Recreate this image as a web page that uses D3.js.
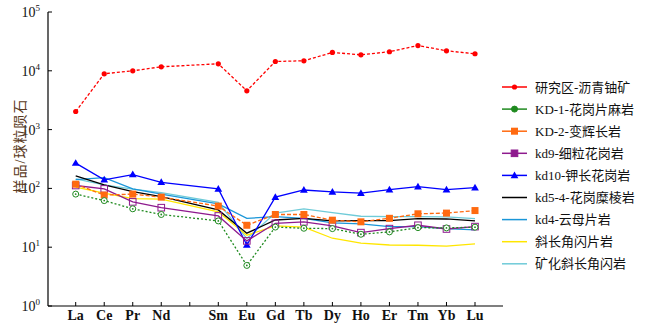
<!DOCTYPE html>
<html>
<head>
<meta charset="utf-8">
<script src="https://cdn.jsdelivr.net/npm/d3@7"></script>
<style>
body { margin: 0; background: #fff; }
text { font-family: "Liberation Serif", "Noto Sans CJK SC", serif; }
</style>
</head>
<body>
<svg id="chart" width="649" height="323"></svg>
<script>
// REE elements, Pm slot left empty
var elements = ["La", "Ce", "Pr", "Nd", "", "Sm", "Eu", "Gd", "Tb", "Dy", "Ho", "Er", "Tm", "Yb", "Lu"];
var yTicks = [0, 1, 2, 3, 4, 5];

var ore      = [2030, 8890, 10000, 11700, null, 13150, 4570, 14400, 14800, 20500, 18700, 21100, 26900, 21900, 19500];
var kd1      = [80, 62, 45, 36, null, 28, 4.9, 22, 21, 20.7, 16.6, 18.2, 21.5, 21.3, 21.9];
var kd2      = [118, 77, 80, 71, null, 50, 23.6, 36, 36, 28.8, 27, 31, 37, 38, 42];
var kd9      = [112, 98, 59, 47, null, 34, 12.8, 25.5, 27, 23, 17.7, 20.7, 23.6, 20.4, 22.4];
var kd10     = [269, 140, 172, 127, null, 98, 10.9, 71, 94, 87, 83, 95, 107, 95, 103];
var kd54     = [163, 115, 88, 72.5, null, 43, 17.3, 29, 31, 28, 28.3, 28.3, 30.6, 30.2, 28];
var kd4      = [141, 153, 98, 80, null, 54.5, 31, 33, 31, 26, 24.9, 22.4, 22.4, 20.7, 19.7];
var amph     = [105, 83, 67, 65.5, null, 40, 16, 23, 21.9, 14.2, 11.7, 10.9, 10.8, 10.4, 11.4];
var minAmph  = [145, 115, 97, 85, null, 58, 14, 38, 45, 38.7, 33.6, 33, 33, 32.7, 30.6];

var series = [
    { name: "研究区-沥青铀矿", values: ore, color: "#ff0000", dash: "3,2", marker: "dot" },
    { name: "KD-1-花岗片麻岩", values: kd1, color: "#1f8a1f", dash: "2,2", marker: "ocircle" },
    { name: "KD-2-变辉长岩", values: kd2, color: "#ff6a10", dash: "4,2", marker: "square" },
    { name: "kd9-细粒花岗岩", values: kd9, color: "#8e1a8e", dash: null, marker: "osquare" },
    { name: "kd10-钾长花岗岩", values: kd10, color: "#0000ff", dash: null, marker: "triangle" },
    { name: "kd5-4-花岗糜棱岩", values: kd54, color: "#000000", dash: null, marker: null },
    { name: "kd4-云母片岩", values: kd4, color: "#1a96d8", dash: null, marker: null },
    { name: "斜长角闪片岩", values: amph, color: "#ffe600", dash: null, marker: null },
    { name: "矿化斜长角闪岩", values: minAmph, color: "#6fcbd8", dash: null, marker: null }
];

var svg = d3.select("#chart");
var x = d3.scaleLinear().domain([0, 14]).range([75.7, 475]);
var y = d3.scaleLog().domain([1, 1e5]).range([306, 12]);
var x0 = 48, xEnd = 503;

// axes
var gx = svg.append("g").attr("transform", "translate(0,306)");
gx.append("line").attr("x1", x0).attr("x2", xEnd).attr("stroke", "#000").attr("stroke-width", 1.2);
gx.selectAll("line.tk").data(elements).enter().append("line")
    .attr("class", "tk")
    .attr("x1", function (d, i) { return x(i); })
    .attr("x2", function (d, i) { return x(i); })
    .attr("y1", 0).attr("y2", -4)
    .attr("stroke", "#000");
gx.selectAll("text").data(elements).enter().append("text")
    .attr("x", function (d, i) { return x(i); })
    .attr("y", 14)
    .attr("text-anchor", "middle")
    .attr("font-size", 14)
    .attr("font-weight", "bold")
    .attr("fill", "#111")
    .text(function (d) { return d; });

var gy = svg.append("g");
gy.append("line").attr("x1", x0).attr("x2", x0).attr("y1", 12).attr("y2", 306)
    .attr("stroke", "#000").attr("stroke-width", 1.2);
gy.selectAll("line.tk").data(yTicks).enter().append("line")
    .attr("class", "tk")
    .attr("x1", x0).attr("x2", x0 + 4)
    .attr("y1", function (d) { return y(Math.pow(10, d)); })
    .attr("y2", function (d) { return y(Math.pow(10, d)); })
    .attr("stroke", "#000");
var tl = gy.selectAll("text").data(yTicks).enter().append("text")
    .attr("x", 40)
    .attr("y", function (d) { return y(Math.pow(10, d)) + 5; })
    .attr("text-anchor", "end")
    .attr("font-size", 14)
    .attr("fill", "#111");
tl.append("tspan").text("10");
tl.append("tspan").attr("font-size", 9).attr("dy", -6).text(function (d) { return d; });

svg.append("text")
    .attr("transform", "translate(25,146) rotate(-90)")
    .attr("text-anchor", "middle")
    .attr("font-size", 14)
    .attr("fill", "#5a3a22")
    .attr("letter-spacing", 1)
    .text("样品/球粒陨石");

// lines skip the empty Pm slot and join Nd straight to Sm
var line = d3.line()
    .x(function (d) { return x(d[0]); })
    .y(function (d) { return y(d[1]); });

function points(values) {
    var pts = [];
    values.forEach(function (v, i) { if (v != null) pts.push([i, v]); });
    return pts;
}

function drawMarker(g, type, color, cx, cy, legend) {
    if (type == "dot") {
        g.append("circle").attr("cx", cx).attr("cy", cy).attr("r", 2.6).attr("fill", color);
    } else if (type == "ocircle") {
        g.append("circle").attr("cx", cx).attr("cy", cy).attr("r", 3)
            .attr("fill", legend ? color : "#fff").attr("stroke", color).attr("stroke-width", 1);
        g.append("circle").attr("cx", cx).attr("cy", cy).attr("r", 0.9).attr("fill", color);
    } else if (type == "square") {
        g.append("rect").attr("x", cx - 3.5).attr("y", cy - 3.5).attr("width", 7).attr("height", 7).attr("fill", color);
    } else if (type == "osquare") {
        g.append("rect").attr("x", cx - 3.3).attr("y", cy - 3.3).attr("width", 6.6).attr("height", 6.6)
            .attr("fill", legend ? color : "none").attr("stroke", color).attr("stroke-width", 1);
    } else if (type == "triangle") {
        g.append("path").attr("d", d3.symbol().type(d3.symbolTriangle).size(26)())
            .attr("transform", "translate(" + cx + "," + (cy + 0.5) + ")")
            .attr("fill", color);
    }
}

// draw from bottom of legend upward so red/blue sit on top
series.slice().reverse().forEach(function (s) {
    var g = svg.append("g");
    var pts = points(s.values);
    g.append("path")
        .attr("d", line(pts))
        .attr("fill", "none")
        .attr("stroke", s.color)
        .attr("stroke-width", 1.3)
        .attr("stroke-dasharray", s.dash);
    if (s.marker) {
        pts.forEach(function (p) {
            drawMarker(g, s.marker, s.color, x(p[0]), y(p[1]), false);
        });
    }
});

// legend
var lg = svg.append("g");
series.forEach(function (s, i) {
    var ly = 87 + i * 22.1;
    lg.append("line").attr("x1", 502).attr("x2", 527).attr("y1", ly).attr("y2", ly)
        .attr("stroke", s.color).attr("stroke-width", 1.5);
    if (s.marker) drawMarker(lg, s.marker, s.color, 514.5, ly, true);
    lg.append("text").attr("x", 535).attr("y", ly + 4.5)
        .attr("font-size", 13).attr("fill", "#111")
        .text(s.name);
});
</script>
</body>
</html>
